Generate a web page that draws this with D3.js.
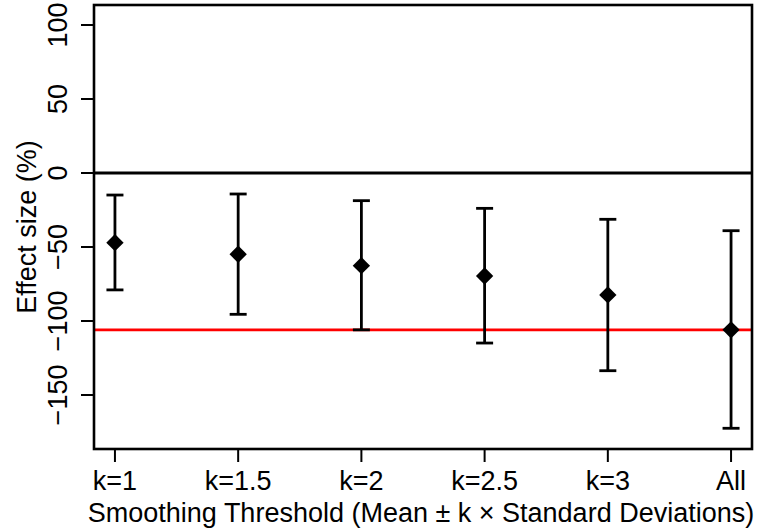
<!DOCTYPE html>
<html><head><meta charset="utf-8">
<script src="https://cdn.jsdelivr.net/npm/d3@7"></script>
<style>html,body{margin:0;padding:0;background:#fff;}svg{display:block;font-family:"Liberation Sans",Arial,Helvetica,sans-serif;}</style>
</head><body>
<script>
const categories = ["k=1","k=1.5","k=2","k=2.5","k=3","All"];
const estimates = [-47.1,-54.9,-62.6,-69.6,-82.4,-106];
const lowers = [-79,-95.5,-106,-114.9,-133.6,-172.5];
const uppers = [-14.9,-14.2,-18.7,-23.9,-31.3,-39];
const referenceValue = -106;
const yTicks = [100,50,0,-50,-100,-150];
const xTitle = "Smoothing Threshold (Mean \u00b1 k \u00d7 Standard Deviations)";
const yTitle = "Effect size (%)";

const W=757,H=532;
const L=94,R=752,T=5,B=449;
const svg=d3.select("body").append("svg").attr("width",W).attr("height",H);
const x=d3.scaleLinear().domain([0.83,6.17]).range([L,R]);
const y=d3.scaleLinear().domain([-186.5,113.5]).range([B,T]);
const fs=27;

svg.append("line").attr("x1",L).attr("x2",R).attr("y1",y(0)).attr("y2",y(0)).attr("stroke","#000").attr("stroke-width",2.8);
svg.append("line").attr("x1",L).attr("x2",R).attr("y1",y(referenceValue)).attr("y2",y(referenceValue)).attr("stroke","#ff0000").attr("stroke-width",2.7);

const data=categories.map((c,i)=>({c,i:i+1,est:estimates[i],lo:lowers[i],hi:uppers[i]}));
const g=svg.append("g");
g.selectAll("line.v").data(data).join("line").attr("class","v")
 .attr("x1",d=>x(d.i)).attr("x2",d=>x(d.i)).attr("y1",d=>y(d.lo)).attr("y2",d=>y(d.hi))
 .attr("stroke","#000").attr("stroke-width",2.8);
["lo","hi"].forEach(k=>{
 g.selectAll("line.c"+k).data(data).join("line").attr("class","c"+k)
  .attr("x1",d=>x(d.i)-8.5).attr("x2",d=>x(d.i)+8.5).attr("y1",d=>y(d[k])).attr("y2",d=>y(d[k]))
  .attr("stroke","#000").attr("stroke-width",2.8);
});
g.selectAll("path.pt").data(data).join("path").attr("class","pt")
 .attr("d",d3.symbol(d3.symbolSquare,150))
 .attr("transform",d=>`translate(${x(d.i)},${y(d.est)}) rotate(45)`).attr("fill","#000");

svg.append("rect").attr("x",L).attr("y",T).attr("width",R-L).attr("height",B-T).attr("fill","none").attr("stroke","#000").attr("stroke-width",2.6);

svg.selectAll("line.yt").data(yTicks).join("line").attr("class","yt")
 .attr("x1",L-13).attr("x2",L).attr("y1",d=>y(d)).attr("y2",d=>y(d)).attr("stroke","#000").attr("stroke-width",2);
svg.selectAll("text.yl").data(yTicks).join("text").attr("class","yl")
 .attr("transform",d=>`translate(66.5,${y(d)}) rotate(-90)`).attr("text-anchor","middle")
 .attr("font-size",fs).text(d=>d<0?"\u2212"+Math.abs(d):String(d));
svg.selectAll("line.xt").data(data).join("line").attr("class","xt")
 .attr("x1",d=>x(d.i)).attr("x2",d=>x(d.i)).attr("y1",B).attr("y2",B+13).attr("stroke","#000").attr("stroke-width",2);
svg.selectAll("text.xl").data(data).join("text").attr("class","xl")
 .attr("x",d=>x(d.i)).attr("y",489.5).attr("text-anchor","middle").attr("font-size",fs).text(d=>d.c);
svg.append("text").attr("x",(L+R)/2 - 2).attr("y",522).attr("text-anchor","middle").attr("font-size",fs).text(xTitle);
svg.append("text").attr("transform",`translate(36,${(T+B)/2}) rotate(-90)`).attr("text-anchor","middle").attr("font-size",fs).text(yTitle);
</script>
</body></html>
